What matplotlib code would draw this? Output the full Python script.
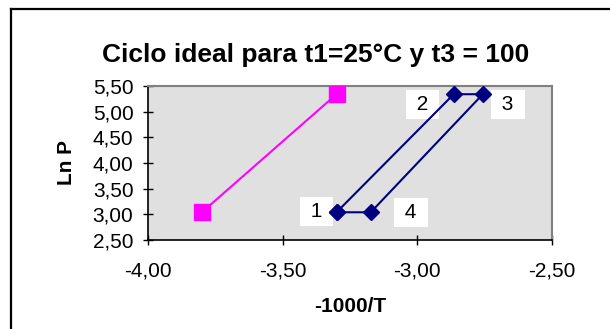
import matplotlib.pyplot as plt
from matplotlib.lines import Line2D
from matplotlib.ticker import FuncFormatter, MultipleLocator

plt.rcParams['font.family'] = ['Liberation Sans', 'DejaVu Sans']

# Ln P vs -1000/T
pinkX = [-3.80, -3.30]
pinkY = [3.04, 5.34]

# ciclo 1 -> 2 -> 3 -> 4 -> 1
cycleX = [-3.30, -2.865, -2.757, -3.173, -3.30]
cycleY = [3.04, 5.34, 5.34, 3.04, 3.04]
pointLabels = ["1", "2", "3", "4"]
labelOffsets = [(-20, 1), (-31, -10), (25, -10), (40, 0)]

fig = plt.figure(figsize=(6.10, 3.29), dpi=100)
ax = fig.add_axes([148 / 610, 1 - 240 / 329, 404 / 610, 154 / 329])
ax.set_facecolor("#E0E0E0")

ax.plot(pinkX, pinkY, "-", color="#FF00FF", lw=1.5,
        marker="s", markersize=11, clip_on=False, zorder=3)
ax.plot(cycleX, cycleY, "-", color="#000080", lw=1.5,
        marker="D", markersize=8, clip_on=False, zorder=4)

for i, lab in enumerate(pointLabels):
    ax.annotate(" " + lab + " ", (cycleX[i], cycleY[i]), xytext=labelOffsets[i],
                textcoords="offset pixels", ha="center", va="center",
                fontsize=15, zorder=3.5,
                bbox=dict(boxstyle="square,pad=0.25", fc="white", ec="none"))

ax.set_xlim(-4.0, -2.5)
ax.set_ylim(2.5, 5.5)
ax.xaxis.set_major_locator(MultipleLocator(0.5))
ax.yaxis.set_major_locator(MultipleLocator(0.5))
fmt = FuncFormatter(lambda v, p: ("%.2f" % v).replace(".", ","))
ax.xaxis.set_major_formatter(fmt)
ax.yaxis.set_major_formatter(fmt)
ax.tick_params(axis="x", direction="inout", length=7, width=1, pad=12, labelsize=15)
ax.tick_params(axis="y", direction="inout", length=7, width=1, pad=7, labelsize=15)

for s in ["top", "right"]:
    ax.spines[s].set_color("#808080")
    ax.spines[s].set_linewidth(1.5)
for s in ["left", "bottom"]:
    ax.spines[s].set_color("black")
    ax.spines[s].set_linewidth(1.2)

fig.text(315.5 / 610, 1 - 62 / 329, "Ciclo ideal para t1=25°C y t3 = 100",
         ha="center", va="baseline", fontsize=19, fontweight="bold")
fig.text(67 / 610, 1 - 162.5 / 329, "Ln P", rotation=90,
         ha="center", va="center", fontsize=15, fontweight="bold")
fig.text(350 / 610, 1 - 306 / 329, "-1000/T",
         ha="center", va="center", fontsize=15, fontweight="bold")

# marco del grafico
fig.add_artist(Line2D([11 / 610, 1], [1 - 9 / 329, 1 - 9 / 329],
                      transform=fig.transFigure, color="black", lw=1.6))
fig.add_artist(Line2D([11 / 610, 11 / 610], [0, 1 - 9 / 329],
                      transform=fig.transFigure, color="black", lw=1.6))

fig.savefig("out.png", dpi=100)
